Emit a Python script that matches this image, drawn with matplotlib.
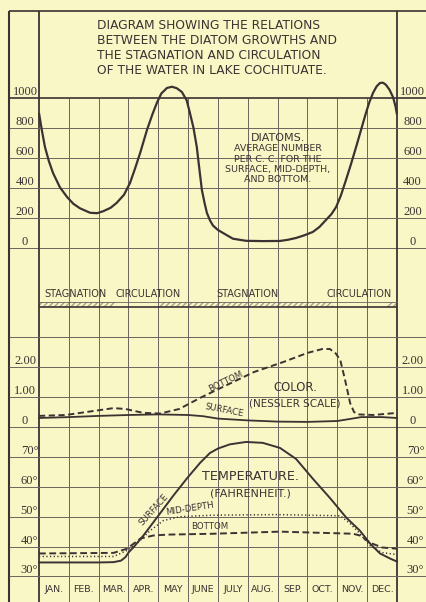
import matplotlib.pyplot as plt
from matplotlib.transforms import blended_transform_factory

W, H = 426, 602
BG = '#faf7c6'
INK = '#3b3333'
GRID = '#6c645d'
HATCH = '#aaa189'
SERIF = 'Liberation Serif'
SANS = 'DejaVu Sans'

MW = 29.83          # one month column in pixels
X0 = -39 / MW       # left edge of the sheet
X1 = (W - 39) / MW  # right edge of the sheet

months = ['JAN.', 'FEB.', 'MAR.', 'APR.', 'MAY', 'JUNE',
          'JULY', 'AUG.', 'SEP.', 'OCT.', 'NOV.', 'DEC.']

# diatoms, average number per c.c. (x = months from Jan 1)
diatom_t = [0.0, 0.1, 0.2, 0.33, 0.47, 0.7, 0.94, 1.15, 1.37, 1.71, 1.95, 2.15, 2.4,
            2.6, 2.85, 3.05, 3.22, 3.39, 3.62, 3.8, 3.95, 4.1, 4.29, 4.46, 4.62,
            4.79, 4.95, 5.06, 5.18, 5.29, 5.38, 5.46, 5.55, 5.63, 5.73, 5.83, 6.0,
            6.17, 6.5, 6.94, 7.5, 8.08, 8.35, 8.62, 8.9, 9.18, 9.4, 9.62, 9.8,
            9.96, 10.12, 10.29, 10.46, 10.63, 10.8, 10.96, 11.08, 11.2, 11.32,
            11.43, 11.53, 11.63, 11.75, 11.87, 11.95, 12.0]
diatom_n = [900, 780, 673, 580, 500, 405, 340, 295, 265, 235, 232, 245, 268,
            300, 355, 433, 530, 633, 787, 890, 967, 1030, 1067, 1075, 1065,
            1040, 985, 900, 800, 673, 520, 387, 300, 233, 185, 150, 120,
            100, 62, 48, 46, 47, 55, 67, 85, 107, 140, 187, 225,
            273, 350, 453, 560, 673, 790, 900, 975, 1035, 1078,
            1100, 1102, 1088, 1055, 1005, 945, 890]

# stagnation periods (hatched), in months
stag_start = [0.0, 4.02, 11.67]
stag_end = [2.55, 9.86, 12.0]
period_names = ['STAGNATION', 'CIRCULATION', 'STAGNATION', 'CIRCULATION']
period_x = [1.21, 3.65, 7.0, 10.74]

# colour, Nessler scale
color_t_surf = [0, 1, 2, 3, 4, 5, 5.5, 6, 7, 8, 9, 10, 10.5, 10.8, 11.5, 12]
color_surf = [0.30, 0.33, 0.37, 0.40, 0.42, 0.40, 0.36, 0.28, 0.22, 0.18, 0.17,
              0.20, 0.28, 0.33, 0.33, 0.30]
color_t_bot = [0, 0.9, 1.8, 2.5, 2.9, 3.5, 4.06, 4.7, 5.4, 6.3, 7.2, 8.2, 9.0, 9.5,
               9.75, 9.95, 10.1, 10.26, 10.43, 10.56, 10.7, 11.2, 12]
color_bot = [0.37, 0.40, 0.53, 0.63, 0.60, 0.47, 0.45, 0.60, 0.97, 1.40, 1.83,
             2.17, 2.47, 2.60, 2.60, 2.45, 2.23, 1.57, 0.80, 0.50, 0.42, 0.40, 0.47]

# temperature, Fahrenheit
temp_t_surf = [0, 1, 2, 2.5, 2.75, 2.9, 3.0, 3.17, 3.5, 4.05, 4.5, 4.95, 5.4, 5.73,
               6.0, 6.4, 6.94, 7.5, 8.08, 8.62, 9.18, 9.75, 10.3, 10.76, 11.1,
               11.43, 11.77, 12]
temp_surf = [34.7, 34.7, 34.7, 34.8, 35.3, 36.5, 38.0, 39.8, 43.7, 51.0, 57.0, 62.7,
             68.0, 71.3, 72.8, 74.2, 75.0, 74.7, 73.0, 69.3, 62.7, 56.3, 49.7,
             45.3, 41.0, 37.7, 36.0, 35.0]
temp_t_mid = [0, 2.5, 2.95, 3.28, 3.72, 4.17, 4.73, 5.83, 8.0, 10.1, 10.43, 10.76,
              11.1, 11.5, 12]
temp_mid = [36.7, 36.7, 38.7, 41.0, 45.3, 48.7, 50.0, 50.5, 50.7, 50.3, 47.7, 44.3,
            40.3, 38.0, 37.3]
temp_t_bot = [0, 2.5, 2.95, 3.4, 3.83, 4.29, 5.83, 8.08, 10.53, 10.76, 11.1, 11.5, 12]
temp_bot = [37.7, 37.9, 39.3, 42.7, 43.7, 44.0, 44.3, 45.0, 44.3, 43.7, 41.3, 39.7,
            39.3]

diatom_ticks = [0, 200, 400, 600, 800, 1000]
color_ticks = [0, 1, 2]
color_ticklabels = ['0', '1.00', '2.00']
temp_ticks = [30, 40, 50, 60, 70]

fig = plt.figure(figsize=(W / 100, H / 100), dpi=100)
fig.patch.set_facecolor(BG)


def panel(top, bottom, ylim):
    ax = fig.add_axes([0, 1 - bottom / H, 1, (bottom - top) / H])
    ax.set_xlim(X0, X1)
    ax.set_ylim(*ylim)
    ax.axis('off')
    return ax


def frame(ax, y0, y1, inner_top=None):
    top = y1 if inner_top is None else inner_top
    ax.vlines(range(1, 12), y0, top, color=GRID, lw=0.7, clip_on=False)
    ax.vlines([0, 12], y0, y1, color=INK, lw=1.3, clip_on=False)
    ax.vlines(-1, y0, y1, color=INK, lw=1.5, clip_on=False)


def side_labels(ax, vals, labels, xl=-0.47, xr=12.52):
    for v, s in zip(vals, labels):
        for x in (xl, xr):
            ax.text(x, v, s, ha='center', va='bottom', family=SERIF,
                    fontsize=9, color=INK)


def label(ax, x, y, s, size, rot=0, ha='center'):
    ax.text(x, y, s, ha=ha, va='center', rotation=rot, family=SANS,
            fontsize=size, color=INK, rotation_mode='anchor')


# --- diatoms ---
axa = panel(9, 248, (0, 1593.3))
frame(axa, 0, 1580, inner_top=1000)
axa.hlines(diatom_ticks[:-1], -1, X1, color=GRID, lw=0.7, clip_on=False)
axa.hlines([1000, 1580], -1, X1, color=INK, lw=1.2, clip_on=False)
side_labels(axa, diatom_ticks, [str(v) for v in diatom_ticks])
axa.plot(diatom_t, diatom_n, color=INK, lw=1.6, solid_joinstyle='round',
         solid_capstyle='butt')

title = ['DIAGRAM SHOWING THE RELATIONS', 'BETWEEN THE DIATOM GROWTHS AND',
         'THE STAGNATION AND CIRCULATION', 'OF THE WATER IN LAKE COCHITUATE.']
for i, line in enumerate(title):
    label(axa, 1.95, 1480 - i * 100, line, 8.8, ha='left')

label(axa, 8.0, 733, 'DIATOMS.', 8.0)
for i, line in enumerate(['AVERAGE NUMBER', 'PER C. C. FOR THE',
                          'SURFACE, MID-DEPTH,', 'AND BOTTOM.']):
    label(axa, 8.0, 662 - i * 69, line, 6.8)

# --- stagnation / circulation bar ---
axb = panel(248, 337, (0, 1))
frame(axb, 0, 1)
for s, e in zip(stag_start, stag_end):
    axb.axvspan(s, e, 0.337, 0.393, facecolor='none', edgecolor=HATCH,
                hatch='//////', lw=0)
axb.hlines(0.393, 0, 12, color=GRID, lw=0.6)
axb.hlines(0.337, 0, 12, color=INK, lw=1.2)
for name, x in zip(period_names, period_x):
    label(axb, x, 0.483, name, 7.0)

# --- colour ---
axc = panel(337, 427, (0, 3))
frame(axc, 0, 3)
axc.hlines([0, 1, 2, 3], -1, X1, color=GRID, lw=0.7, clip_on=False)
side_labels(axc, color_ticks, color_ticklabels)
axc.plot(color_t_surf, color_surf, color=INK, lw=1.3)
axc.plot(color_t_bot, color_bot, color=INK, lw=1.4, ls=(0, (3.2, 1.8)))
label(axc, 8.6, 1.33, 'COLOR.', 8.4)
label(axc, 8.58, 0.77, '(NESSLER SCALE)', 7.5)
axc.text(6.27, 1.5, 'BOTTOM', ha='center', va='center', rotation=26,
         family=SANS, fontsize=6.2, color=INK)
axc.text(6.2, 0.55, 'SURFACE', ha='center', va='center', rotation=-11,
         family=SANS, fontsize=6.2, color=INK)

# --- temperature ---
axd = panel(427, 602, (21.47, 80))
frame(axd, 21.47, 80)
axd.hlines(temp_ticks, -1, X1, color=GRID, lw=0.7, clip_on=False)
side_labels(axd, temp_ticks, [f'{v}°' for v in temp_ticks], xl=-0.32, xr=12.62)
axd.plot(temp_t_surf, temp_surf, color=INK, lw=1.4)
axd.plot(temp_t_mid, temp_mid, color=INK, lw=1.1, ls=(0, (0.8, 1.6)))
axd.plot(temp_t_bot, temp_bot, color=INK, lw=1.4, ls=(0, (3.5, 1.8)))
label(axd, 7.1, 63.3, 'TEMPERATURE.', 9.2)
label(axd, 7.1, 57.6, '(FAHRENHEIT.)', 8.0)
axd.text(3.86, 52.4, 'SURFACE', ha='center', va='center', rotation=48,
         family=SANS, fontsize=6.2, color=INK)
axd.text(5.05, 52.7, 'MID-DEPTH', ha='center', va='center', rotation=9,
         family=SANS, fontsize=6.2, color=INK)
label(axd, 5.73, 46.6, 'BOTTOM', 6.2)

tr = blended_transform_factory(axd.transData, axd.transAxes)
for i, m in enumerate(months):
    axd.text(i + 0.5, 0.069, m, transform=tr, ha='center', va='center',
             family=SANS, fontsize=6.8, color=INK)

fig.savefig('out.png', dpi=100, facecolor=BG)
